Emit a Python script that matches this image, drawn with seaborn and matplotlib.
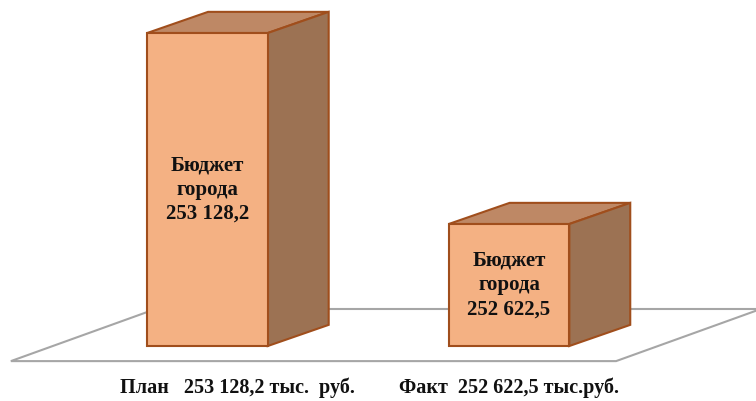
import pandas as pd
import seaborn as sns
import matplotlib.pyplot as plt
from matplotlib.patches import Polygon

categories = ['План', 'Факт']
values = [253128.2, 252622.5]
bar_labels = ['Бюджет\nгорода\n253 128,2', 'Бюджет\nгорода\n252 622,5']
axis_labels = ['План   253 128,2 тыс.  руб.', 'Факт  252 622,5 тыс.руб.']
base = 252299.5   # value axis floor (truncated axis, as in the original)

df = pd.DataFrame({'cat': categories, 'val': [v - base for v in values]})

sns.set_style('white')
plt.rcParams['font.family'] = ['Liberation Serif', 'DejaVu Serif']

front = '#F4B183'
top_c = '#BE8865'
side_c = '#9C7253'
edge = '#A04E1C'

fig = plt.figure(figsize=(7.56, 4.01), dpi=100)
ax = fig.add_axes([0, 0, 1, 1])

sns.barplot(data=df, x='cat', y='val', bottom=base, width=0.4, color=front,
            saturation=1, edgecolor=edge, linewidth=1.5, ax=ax, zorder=3)
bars = list(ax.patches)

# 3d depth of the boxes, in data units
dx, dy = 0.202, 56

# floor of the chart
fx0, fx1, fshift = -0.652, 1.355, 0.48
fy0, fy1 = base - 40, base + 98
floor = Polygon([(fx0, fy0), (fx1, fy0), (fx1 + fshift, fy1), (fx0 + fshift, fy1)],
                closed=True, facecolor='white', edgecolor='#A6A6A6', lw=1.5, zorder=1)
ax.add_patch(floor)

for p in bars:
    x0, w, y0, h = p.get_x(), p.get_width(), p.get_y(), p.get_height()
    top = Polygon([(x0, y0 + h), (x0 + w, y0 + h), (x0 + w + dx, y0 + h + dy), (x0 + dx, y0 + h + dy)],
                  closed=True, facecolor=top_c, edgecolor=edge, lw=1.5, zorder=2)
    side = Polygon([(x0 + w, y0), (x0 + w, y0 + h), (x0 + w + dx, y0 + h + dy), (x0 + w + dx, y0 + dy)],
                   closed=True, facecolor=side_c, edgecolor=edge, lw=1.5, zorder=2)
    ax.add_patch(top)
    ax.add_patch(side)

for p, lab in zip(bars, bar_labels):
    ax.text(p.get_x() + p.get_width() / 2, p.get_y() + p.get_height() / 2, lab,
            ha='center', va='center', fontsize=15, fontweight='bold', linespacing=1.3,
            color='#111111', zorder=5)

label_shift = [0.1, 0.0]
for i, lab in enumerate(axis_labels):
    ax.text(i + label_shift[i], base - 111, lab, ha='center', va='center',
            fontsize=14.5, fontweight='bold', color='#111111')

ax.set_xlim(-0.688, 1.819)
ax.set_ylim(252153.9, 253215.6)
ax.axis('off')

fig.savefig('out.png', dpi=100)
